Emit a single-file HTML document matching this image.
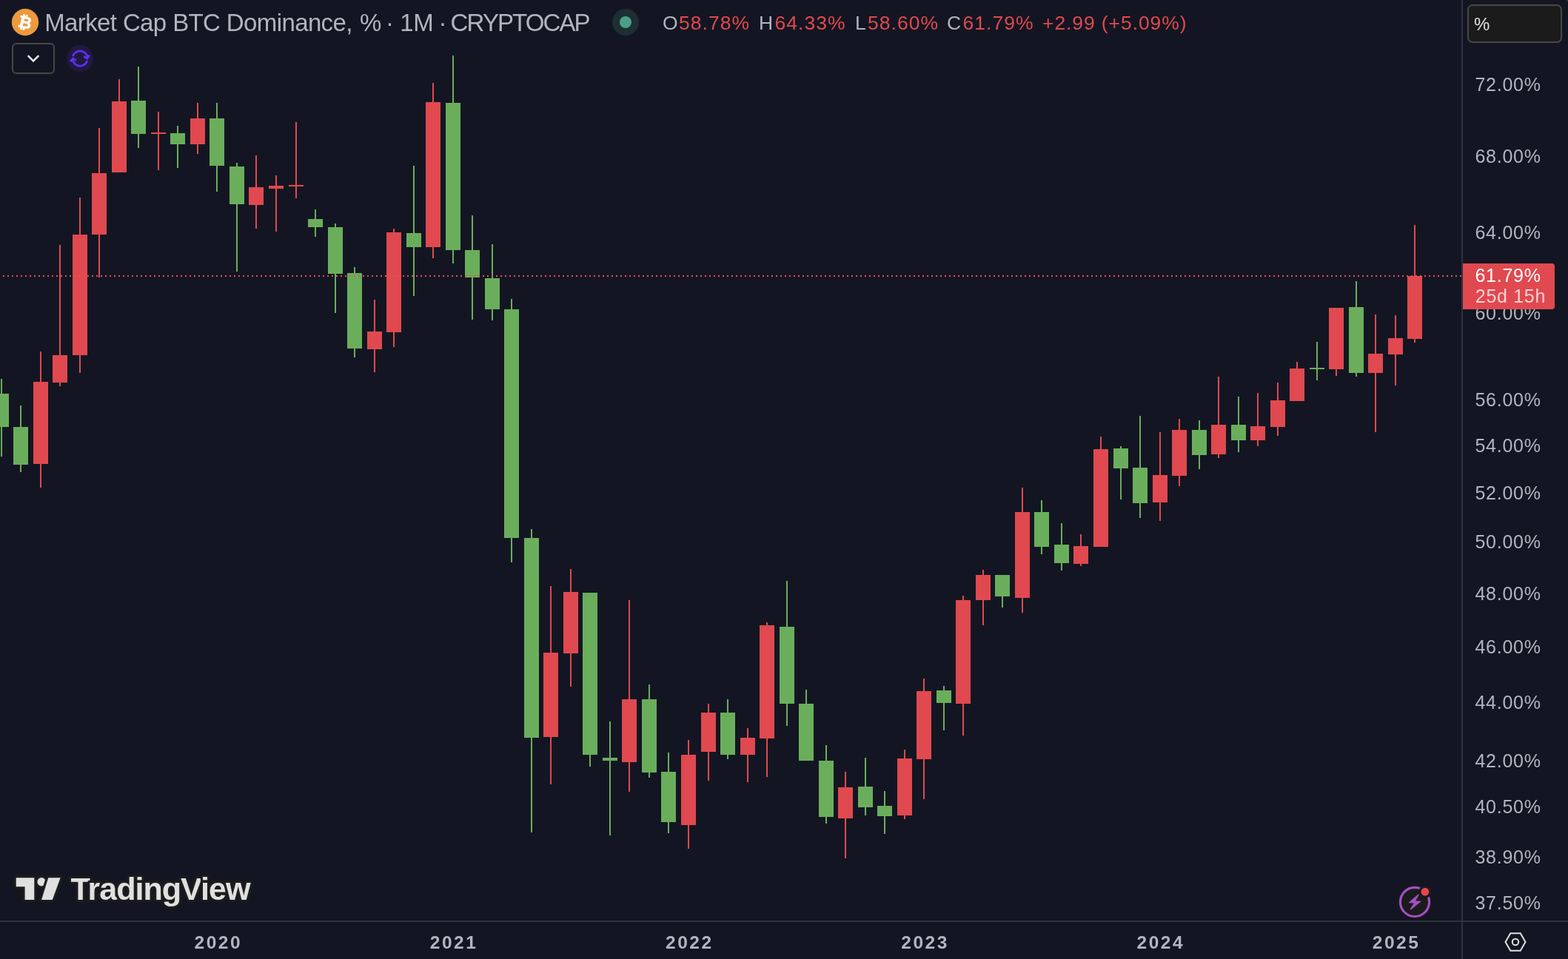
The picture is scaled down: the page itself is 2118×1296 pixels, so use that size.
<!DOCTYPE html>
<html lang="en"><head><meta charset="utf-8"><title>Market Cap BTC Dominance, % · 1M · CRYPTOCAP</title>
<style>html,body{margin:0;padding:0;background:#131622;overflow:hidden}body{width:2118px;height:1296px;position:relative}svg{position:absolute;left:0;top:0;display:block}text{font-family:"Liberation Sans",Arial,sans-serif;white-space:pre}</style>
</head><body>
<svg width="2118" height="1296" viewBox="0 0 2118 1296" shape-rendering="crispEdges">
<rect width="2118" height="1296" fill="#131622"/>
<g id="candles">
<rect x="1" y="512" width="2" height="105" fill="#6AAE5C"/>
<rect x="-8" y="532" width="20" height="45" fill="#6AAE5C"/>
<rect x="27" y="548" width="2" height="90" fill="#6AAE5C"/>
<rect x="18" y="577" width="20" height="51" fill="#6AAE5C"/>
<rect x="54" y="475" width="2" height="184" fill="#E0494F"/>
<rect x="45" y="516" width="20" height="111" fill="#E0494F"/>
<rect x="80" y="331" width="2" height="191" fill="#E0494F"/>
<rect x="71" y="480" width="20" height="37" fill="#E0494F"/>
<rect x="107" y="267" width="2" height="237" fill="#E0494F"/>
<rect x="98" y="317" width="20" height="163" fill="#E0494F"/>
<rect x="133" y="173" width="2" height="202" fill="#E0494F"/>
<rect x="124" y="234" width="20" height="83" fill="#E0494F"/>
<rect x="160" y="107" width="2" height="126" fill="#E0494F"/>
<rect x="151" y="137" width="20" height="96" fill="#E0494F"/>
<rect x="186" y="90" width="2" height="110" fill="#6AAE5C"/>
<rect x="177" y="136" width="20" height="45" fill="#6AAE5C"/>
<rect x="213" y="151" width="2" height="79" fill="#E0494F"/>
<rect x="204" y="179" width="20" height="2" fill="#E0494F"/>
<rect x="239" y="170" width="2" height="57" fill="#6AAE5C"/>
<rect x="230" y="180" width="20" height="15" fill="#6AAE5C"/>
<rect x="266" y="139" width="2" height="69" fill="#E0494F"/>
<rect x="257" y="160" width="20" height="35" fill="#E0494F"/>
<rect x="292" y="139" width="2" height="120" fill="#6AAE5C"/>
<rect x="283" y="160" width="20" height="64" fill="#6AAE5C"/>
<rect x="319" y="220" width="2" height="147" fill="#6AAE5C"/>
<rect x="310" y="225" width="20" height="51" fill="#6AAE5C"/>
<rect x="345" y="210" width="2" height="99" fill="#E0494F"/>
<rect x="336" y="253" width="20" height="24" fill="#E0494F"/>
<rect x="372" y="237" width="2" height="76" fill="#E0494F"/>
<rect x="363" y="251" width="20" height="4" fill="#E0494F"/>
<rect x="399" y="165" width="2" height="103" fill="#E0494F"/>
<rect x="390" y="250" width="20" height="2" fill="#E0494F"/>
<rect x="425" y="283" width="2" height="37" fill="#6AAE5C"/>
<rect x="416" y="296" width="20" height="11" fill="#6AAE5C"/>
<rect x="452" y="302" width="2" height="121" fill="#6AAE5C"/>
<rect x="443" y="307" width="20" height="63" fill="#6AAE5C"/>
<rect x="478" y="361" width="2" height="122" fill="#6AAE5C"/>
<rect x="469" y="369" width="20" height="102" fill="#6AAE5C"/>
<rect x="505" y="405" width="2" height="98" fill="#E0494F"/>
<rect x="496" y="448" width="20" height="24" fill="#E0494F"/>
<rect x="531" y="309" width="2" height="160" fill="#E0494F"/>
<rect x="522" y="314" width="20" height="135" fill="#E0494F"/>
<rect x="558" y="224" width="2" height="176" fill="#6AAE5C"/>
<rect x="549" y="315" width="20" height="19" fill="#6AAE5C"/>
<rect x="584" y="112" width="2" height="237" fill="#E0494F"/>
<rect x="575" y="138" width="20" height="196" fill="#E0494F"/>
<rect x="611" y="75" width="2" height="281" fill="#6AAE5C"/>
<rect x="602" y="139" width="20" height="199" fill="#6AAE5C"/>
<rect x="637" y="291" width="2" height="141" fill="#6AAE5C"/>
<rect x="628" y="338" width="20" height="37" fill="#6AAE5C"/>
<rect x="664" y="330" width="2" height="103" fill="#6AAE5C"/>
<rect x="655" y="376" width="20" height="42" fill="#6AAE5C"/>
<rect x="690" y="404" width="2" height="356" fill="#6AAE5C"/>
<rect x="681" y="418" width="20" height="309" fill="#6AAE5C"/>
<rect x="717" y="715" width="2" height="410" fill="#6AAE5C"/>
<rect x="708" y="727" width="20" height="270" fill="#6AAE5C"/>
<rect x="743" y="792" width="2" height="268" fill="#E0494F"/>
<rect x="734" y="882" width="20" height="114" fill="#E0494F"/>
<rect x="770" y="769" width="2" height="159" fill="#E0494F"/>
<rect x="761" y="800" width="20" height="83" fill="#E0494F"/>
<rect x="796" y="801" width="2" height="235" fill="#6AAE5C"/>
<rect x="787" y="801" width="20" height="219" fill="#6AAE5C"/>
<rect x="823" y="975" width="2" height="154" fill="#6AAE5C"/>
<rect x="814" y="1024" width="20" height="4" fill="#6AAE5C"/>
<rect x="849" y="811" width="2" height="259" fill="#E0494F"/>
<rect x="840" y="945" width="20" height="85" fill="#E0494F"/>
<rect x="876" y="925" width="2" height="126" fill="#6AAE5C"/>
<rect x="867" y="945" width="20" height="99" fill="#6AAE5C"/>
<rect x="902" y="1017" width="2" height="109" fill="#6AAE5C"/>
<rect x="893" y="1043" width="20" height="68" fill="#6AAE5C"/>
<rect x="929" y="1000" width="2" height="147" fill="#E0494F"/>
<rect x="920" y="1020" width="20" height="95" fill="#E0494F"/>
<rect x="956" y="951" width="2" height="104" fill="#E0494F"/>
<rect x="947" y="963" width="20" height="53" fill="#E0494F"/>
<rect x="982" y="945" width="2" height="81" fill="#6AAE5C"/>
<rect x="973" y="963" width="20" height="57" fill="#6AAE5C"/>
<rect x="1009" y="984" width="2" height="73" fill="#E0494F"/>
<rect x="1000" y="997" width="20" height="23" fill="#E0494F"/>
<rect x="1035" y="841" width="2" height="209" fill="#E0494F"/>
<rect x="1026" y="845" width="20" height="153" fill="#E0494F"/>
<rect x="1062" y="785" width="2" height="196" fill="#6AAE5C"/>
<rect x="1053" y="847" width="20" height="104" fill="#6AAE5C"/>
<rect x="1088" y="932" width="2" height="96" fill="#6AAE5C"/>
<rect x="1079" y="951" width="20" height="77" fill="#6AAE5C"/>
<rect x="1115" y="1007" width="2" height="106" fill="#6AAE5C"/>
<rect x="1106" y="1028" width="20" height="76" fill="#6AAE5C"/>
<rect x="1141" y="1043" width="2" height="117" fill="#E0494F"/>
<rect x="1132" y="1064" width="20" height="42" fill="#E0494F"/>
<rect x="1168" y="1024" width="2" height="78" fill="#6AAE5C"/>
<rect x="1159" y="1063" width="20" height="28" fill="#6AAE5C"/>
<rect x="1194" y="1069" width="2" height="58" fill="#6AAE5C"/>
<rect x="1185" y="1089" width="20" height="14" fill="#6AAE5C"/>
<rect x="1221" y="1013" width="2" height="94" fill="#E0494F"/>
<rect x="1212" y="1025" width="20" height="77" fill="#E0494F"/>
<rect x="1247" y="917" width="2" height="163" fill="#E0494F"/>
<rect x="1238" y="934" width="20" height="92" fill="#E0494F"/>
<rect x="1274" y="927" width="2" height="60" fill="#6AAE5C"/>
<rect x="1265" y="933" width="20" height="17" fill="#6AAE5C"/>
<rect x="1300" y="805" width="2" height="189" fill="#E0494F"/>
<rect x="1291" y="811" width="20" height="140" fill="#E0494F"/>
<rect x="1327" y="770" width="2" height="75" fill="#E0494F"/>
<rect x="1318" y="777" width="20" height="34" fill="#E0494F"/>
<rect x="1353" y="777" width="2" height="44" fill="#6AAE5C"/>
<rect x="1344" y="777" width="20" height="29" fill="#6AAE5C"/>
<rect x="1380" y="659" width="2" height="169" fill="#E0494F"/>
<rect x="1371" y="692" width="20" height="116" fill="#E0494F"/>
<rect x="1406" y="676" width="2" height="73" fill="#6AAE5C"/>
<rect x="1397" y="692" width="20" height="47" fill="#6AAE5C"/>
<rect x="1433" y="707" width="2" height="64" fill="#6AAE5C"/>
<rect x="1424" y="736" width="20" height="25" fill="#6AAE5C"/>
<rect x="1459" y="722" width="2" height="43" fill="#E0494F"/>
<rect x="1450" y="738" width="20" height="24" fill="#E0494F"/>
<rect x="1486" y="590" width="2" height="149" fill="#E0494F"/>
<rect x="1477" y="607" width="20" height="132" fill="#E0494F"/>
<rect x="1513" y="603" width="2" height="72" fill="#6AAE5C"/>
<rect x="1504" y="606" width="20" height="27" fill="#6AAE5C"/>
<rect x="1539" y="562" width="2" height="138" fill="#6AAE5C"/>
<rect x="1530" y="632" width="20" height="48" fill="#6AAE5C"/>
<rect x="1566" y="584" width="2" height="120" fill="#E0494F"/>
<rect x="1557" y="642" width="20" height="37" fill="#E0494F"/>
<rect x="1592" y="566" width="2" height="91" fill="#E0494F"/>
<rect x="1583" y="581" width="20" height="62" fill="#E0494F"/>
<rect x="1619" y="568" width="2" height="66" fill="#6AAE5C"/>
<rect x="1610" y="581" width="20" height="34" fill="#6AAE5C"/>
<rect x="1645" y="509" width="2" height="110" fill="#E0494F"/>
<rect x="1636" y="574" width="20" height="40" fill="#E0494F"/>
<rect x="1672" y="536" width="2" height="75" fill="#6AAE5C"/>
<rect x="1663" y="574" width="20" height="21" fill="#6AAE5C"/>
<rect x="1698" y="531" width="2" height="72" fill="#E0494F"/>
<rect x="1689" y="576" width="20" height="19" fill="#E0494F"/>
<rect x="1725" y="517" width="2" height="72" fill="#E0494F"/>
<rect x="1716" y="541" width="20" height="36" fill="#E0494F"/>
<rect x="1751" y="489" width="2" height="53" fill="#E0494F"/>
<rect x="1742" y="498" width="20" height="44" fill="#E0494F"/>
<rect x="1778" y="462" width="2" height="52" fill="#6AAE5C"/>
<rect x="1769" y="497" width="20" height="2" fill="#6AAE5C"/>
<rect x="1804" y="416" width="2" height="92" fill="#E0494F"/>
<rect x="1795" y="416" width="20" height="83" fill="#E0494F"/>
<rect x="1831" y="380" width="2" height="129" fill="#6AAE5C"/>
<rect x="1822" y="415" width="20" height="89" fill="#6AAE5C"/>
<rect x="1857" y="425" width="2" height="159" fill="#E0494F"/>
<rect x="1848" y="478" width="20" height="26" fill="#E0494F"/>
<rect x="1884" y="426" width="2" height="95" fill="#E0494F"/>
<rect x="1875" y="457" width="20" height="22" fill="#E0494F"/>
<rect x="1910" y="304" width="2" height="159" fill="#E0494F"/>
<rect x="1901" y="373" width="20" height="85" fill="#E0494F"/>
</g>
<line x1="-2" y1="373" x2="1974" y2="373" stroke="#EE4C55" stroke-width="2" stroke-dasharray="2 4"/>
<rect x="1974" y="0" width="2" height="1296" fill="#2E323D"/>
<rect x="0" y="1244" width="2118" height="2" fill="#2E323D"/>
</svg>
<svg width="2118" height="1296" viewBox="0 0 2118 1296">
<g id="btc-icon"><circle cx="34" cy="30" r="18.2" fill="#EC9A3E"/>
<text x="34" y="38" text-anchor="middle" font-size="22.3" font-weight="bold" fill="#fff" stroke="#fff" stroke-width="0.5" transform="rotate(13 34 30)">₿</text></g>
<text x="60.2" y="42.1" font-size="33" fill="#B2B5BE" textLength="416.2" lengthAdjust="spacing">Market Cap BTC Dominance,</text>
<text x="486" y="42.1" font-size="33" fill="#B2B5BE" textLength="29.5" lengthAdjust="spacing">%</text>
<text x="520.9" y="42.1" font-size="33" fill="#B2B5BE">·</text>
<text x="540.2" y="42.1" font-size="33" fill="#B2B5BE" textLength="45.5" lengthAdjust="spacing">1M</text>
<text x="592.5" y="42.1" font-size="33" fill="#B2B5BE">·</text>
<text x="608.6" y="42.1" font-size="33" fill="#B2B5BE" textLength="189" lengthAdjust="spacing">CRYPTOCAP</text>
<circle cx="845" cy="30" r="18" fill="#1E2F33"/><circle cx="845" cy="30" r="8" fill="#4C9F8A"/>
<text x="895" y="40" font-size="26.5" fill="#B2B5BE">O</text>
<text x="917" y="40" font-size="26.5" fill="#E0494F" textLength="95" lengthAdjust="spacing">58.78%</text>
<text x="1025" y="40" font-size="26.5" fill="#B2B5BE">H</text>
<text x="1046.5" y="40" font-size="26.5" fill="#E0494F" textLength="95" lengthAdjust="spacing">64.33%</text>
<text x="1155" y="40" font-size="26.5" fill="#B2B5BE">L</text>
<text x="1172" y="40" font-size="26.5" fill="#E0494F" textLength="95" lengthAdjust="spacing">58.60%</text>
<text x="1279" y="40" font-size="26.5" fill="#B2B5BE">C</text>
<text x="1300.5" y="40" font-size="26.5" fill="#E0494F" textLength="95" lengthAdjust="spacing">61.79%</text>
<text x="1408" y="40" font-size="26.5" fill="#E0494F" textLength="194.5" lengthAdjust="spacing">+2.99 (+5.09%)</text>
<rect x="17" y="59" width="56" height="40" rx="5" ry="5" fill="none" stroke="#474747" stroke-width="2"/>
<path d="M37.7 75.2 L45 82.5 L52.3 75.2" fill="none" stroke="#E6E6E6" stroke-width="2.6" stroke-linecap="butt" stroke-linejoin="miter"/>
<g id="refresh"><circle cx="108" cy="79" r="18" fill="#20193F"/>
<g fill="none" stroke="#5B30F5" stroke-width="2.8" stroke-linecap="butt" stroke-linejoin="miter">
<path d="M98.4 76.1 A10.1 10.1 0 0 1 118.1 77.4"/>
<path d="M113.2 76.4 L117.7 79 L121 74.6"/>
<path d="M117.8 81.9 A10.1 10.1 0 0 1 98.1 80.6"/>
<path d="M103 81.6 L98.5 79 L95.2 83.4"/>
</g></g>
<rect x="1983" y="7" width="126" height="50" rx="6" ry="6" fill="#1B1B1B" stroke="#474747" stroke-width="2"/>
<text x="1991" y="41" font-size="24" fill="#E0E0E0">%</text>
<text x="1992.4" y="122.5" font-size="25" fill="#B2B5BE" textLength="88.6" lengthAdjust="spacing">72.00%</text>
<text x="1992.4" y="219.5" font-size="25" fill="#B2B5BE" textLength="88.6" lengthAdjust="spacing">68.00%</text>
<text x="1992.4" y="322.5" font-size="25" fill="#B2B5BE" textLength="88.6" lengthAdjust="spacing">64.00%</text>
<text x="1992.4" y="431.5" font-size="25" fill="#B2B5BE" textLength="88.6" lengthAdjust="spacing">60.00%</text>
<text x="1992.4" y="548.5" font-size="25" fill="#B2B5BE" textLength="88.6" lengthAdjust="spacing">56.00%</text>
<text x="1992.4" y="610.5" font-size="25" fill="#B2B5BE" textLength="88.6" lengthAdjust="spacing">54.00%</text>
<text x="1992.4" y="674.5" font-size="25" fill="#B2B5BE" textLength="88.6" lengthAdjust="spacing">52.00%</text>
<text x="1992.4" y="740.5" font-size="25" fill="#B2B5BE" textLength="88.6" lengthAdjust="spacing">50.00%</text>
<text x="1992.4" y="810.5" font-size="25" fill="#B2B5BE" textLength="88.6" lengthAdjust="spacing">48.00%</text>
<text x="1992.4" y="882.5" font-size="25" fill="#B2B5BE" textLength="88.6" lengthAdjust="spacing">46.00%</text>
<text x="1992.4" y="957.5" font-size="25" fill="#B2B5BE" textLength="88.6" lengthAdjust="spacing">44.00%</text>
<text x="1992.4" y="1036.5" font-size="25" fill="#B2B5BE" textLength="88.6" lengthAdjust="spacing">42.00%</text>
<text x="1992.4" y="1098.5" font-size="25" fill="#B2B5BE" textLength="88.6" lengthAdjust="spacing">40.50%</text>
<text x="1992.4" y="1166.5" font-size="25" fill="#B2B5BE" textLength="88.6" lengthAdjust="spacing">38.90%</text>
<text x="1992.4" y="1228.5" font-size="25" fill="#B2B5BE" textLength="88.6" lengthAdjust="spacing">37.50%</text>
<path d="M1976 356 H2096 Q2100 356 2100 360 V414 Q2100 418 2096 418 H1976 Z" fill="#E0494F"/>
<text x="1992.4" y="380.6" font-size="25" fill="#FFFFFF" textLength="88.6" lengthAdjust="spacing">61.79%</text>
<text x="1992.8" y="409" font-size="25" fill="#FFFFFF" textLength="94.5" lengthAdjust="spacing" fill-opacity="0.75">25d 15h</text>
<text x="262.6" y="1282.4" font-size="24.5" font-weight="bold" fill="#B2B5BE" textLength="62" lengthAdjust="spacing">2020</text>
<text x="580.8" y="1282.4" font-size="24.5" font-weight="bold" fill="#B2B5BE" textLength="62" lengthAdjust="spacing">2021</text>
<text x="899.1" y="1282.4" font-size="24.5" font-weight="bold" fill="#B2B5BE" textLength="62" lengthAdjust="spacing">2022</text>
<text x="1217.3" y="1282.4" font-size="24.5" font-weight="bold" fill="#B2B5BE" textLength="62" lengthAdjust="spacing">2023</text>
<text x="1535.6" y="1282.4" font-size="24.5" font-weight="bold" fill="#B2B5BE" textLength="62" lengthAdjust="spacing">2024</text>
<text x="1853.8" y="1282.4" font-size="24.5" font-weight="bold" fill="#B2B5BE" textLength="62" lengthAdjust="spacing">2025</text>
<g id="tv-logo" stroke="#1C1C1C" stroke-width="6.5" stroke-linejoin="round" paint-order="stroke" fill="#E0E0E0">
<path d="M21.7 1186.3 H46.3 V1216.1 H33.6 V1198.2 H21.7 Z"/>
<circle cx="56.1" cy="1191.8" r="5.7"/>
<path d="M65.2 1186.3 H81.6 L70.8 1216.1 H56.1 Z"/>
<text x="95.5" y="1216.1" font-size="43.2" font-weight="bold" textLength="243" lengthAdjust="spacing">TradingView</text>
</g>
<g id="flash"><circle cx="1911" cy="1218.9" r="22.3" fill="#1B1B1C"/>
<circle cx="1911" cy="1218.9" r="19.55" fill="none" stroke="#A550C6" stroke-width="3.1"/>
<path d="M1915.9 1208.3 L1916.7 1209 L1911.9 1217.6 L1919.6 1217.9 L1905.6 1229.6 L1904.8 1228.7 L1910 1220.5 L1902.6 1219.9 Z" fill="#A550C6" stroke="#A550C6" stroke-width="0.3" stroke-linejoin="round"/>
<circle cx="1924.9" cy="1205.2" r="8.6" fill="#1B1B1C"/><circle cx="1924.9" cy="1205.2" r="5.4" fill="#E5484D"/></g>
<g id="gear" fill="none" stroke="#E0E0E0" stroke-width="2">
<path d="M2033.5 1273 L2040.3 1261.2 H2053.7 L2060.5 1273 L2053.7 1284.8 H2040.3 Z"/>
<circle cx="2047" cy="1273" r="4.2"/></g>
<path d="M2115.2 0 H2118 V3.6 Q2117.6 1.4 2115.2 0 Z" fill="#333333"/>
</svg>
</body></html>
